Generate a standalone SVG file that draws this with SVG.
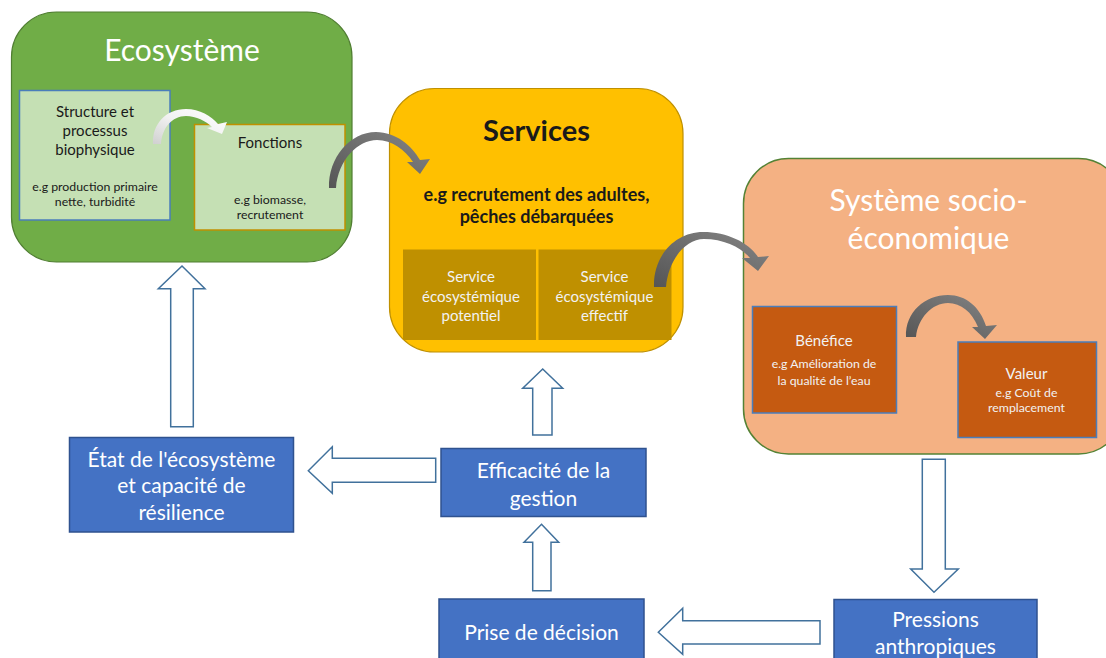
<svg xmlns="http://www.w3.org/2000/svg" width="1106" height="658" viewBox="0 0 1106 658">
<defs>
<style>
text{font-family:Lato,"Open Sans","Liberation Sans",sans-serif;text-anchor:middle}
.big{font-size:30px;fill:#fff}
.t14{font-size:15px}
.t11{font-size:12.3px}
.t20{font-size:21px;fill:#fff}
.lt{fill:#F2F2F2}
.dk{fill:#1a1a1a}
.blue{fill:#4472C4;stroke:#2F528F;stroke-width:1.5}
.blk{fill:#fff;stroke:#41719C;stroke-width:1.5;stroke-linejoin:miter}
.cgray{fill:url(#gDark)}
</style>
<linearGradient id="gDark" x1="0" y1="1" x2="1" y2="0">
<stop offset="0" stop-color="#555555"/>
<stop offset="1" stop-color="#858585"/>
</linearGradient>
<linearGradient id="gLight" x1="0" y1="1" x2="1" y2="0">
<stop offset="0" stop-color="#D0D0D0"/>
<stop offset="0.5" stop-color="#F2F2F2"/>
<stop offset="1" stop-color="#FFFFFF"/>
</linearGradient>
</defs>

<g id="ecosysteme">
<rect x="11.5" y="12" width="340.5" height="250" rx="45" fill="#70AD47" stroke="#507E32" stroke-width="1.2"/>
<text class="big" x="182" y="60.5">Ecosystème</text>
</g>
<g id="structure">
<rect x="19.5" y="90.5" width="150.5" height="129.5" fill="#C5E0B4" stroke="#4A7EBB" stroke-width="1.5"/>
<text class="t14 dk" x="95" y="116.5">Structure et</text>
<text class="t14 dk" x="95" y="136">processus</text>
<text class="t14 dk" x="95" y="155">biophysique</text>
<text class="t11 dk" x="95" y="190.5">e.g production primaire</text>
<text class="t11 dk" x="95" y="205.5">nette, turbidité</text>
</g>
<g id="fonctions">
<rect x="194.5" y="124.5" width="150.5" height="105.5" fill="#C5E0B4" stroke="#C09000" stroke-width="1.5"/>
<text class="t14 dk" x="270" y="147.5">Fonctions</text>
<text class="t11 dk" x="270" y="204">e.g biomasse,</text>
<text class="t11 dk" x="270" y="218.5">recrutement</text>
</g>

<g id="services">
<rect x="389.5" y="88.5" width="293.5" height="263.5" rx="45" fill="#FFC000" stroke="#BF9000" stroke-width="1.2"/>
<text x="536.5" y="140.5" style="font-size:29px;font-weight:bold" class="dk">Services</text>
<text x="536.5" y="201" style="font-size:18px;font-weight:bold" class="dk">e.g recrutement des adultes,</text>
<text x="536.5" y="222.5" style="font-size:18px;font-weight:bold" class="dk">pêches débarquées</text>
</g>
<g id="potentiel">
<rect x="403" y="249.5" width="133" height="90.5" fill="#BF9000"/>
<text class="t14 lt" x="471" y="281.5">Service</text>
<text class="t14 lt" x="471" y="301.5">écosystémique</text>
<text class="t14 lt" x="471" y="320.5">potentiel</text>
</g>
<g id="effectif">
<rect x="538.5" y="249.5" width="133" height="90.5" fill="#BF9000"/>
<text class="t14 lt" x="604.5" y="281.5">Service</text>
<text class="t14 lt" x="604.5" y="301.5">écosystémique</text>
<text class="t14 lt" x="604.5" y="320.5">effectif</text>
</g>

<g id="socio">
<rect x="743.5" y="158.5" width="380" height="295.5" rx="45" fill="#F4B183" stroke="#548235" stroke-width="1.5"/>
<text class="big" x="928.5" y="210.5">Système socio-</text>
<text class="big" x="928.5" y="248.5">économique</text>
</g>
<g id="benefice">
<rect x="752.5" y="306.5" width="144" height="106.5" fill="#C55A11" stroke="#4A7EBB" stroke-width="1.5"/>
<text class="t14 lt" x="824" y="346">Bénéfice</text>
<text class="t11 lt" x="824" y="367.5">e.g Amélioration de</text>
<text class="t11 lt" x="824" y="385.2">la qualité de l’eau</text>
</g>
<g id="valeur">
<rect x="958" y="342" width="138.5" height="95.5" fill="#C55A11" stroke="#4A7EBB" stroke-width="1.5"/>
<text class="t14 lt" x="1026.5" y="378.5">Valeur</text>
<text class="t11 lt" x="1026.5" y="396.5">e.g Coût de</text>
<text class="t11 lt" x="1026.5" y="412">remplacement</text>
</g>

<g id="etat">
<rect class="blue" x="69.5" y="437.5" width="224" height="94.5"/>
<text class="t20" x="181.5" y="466.5">État de l'écosystème</text>
<text class="t20" x="181.5" y="493.3">et capacité de</text>
<text class="t20" x="181.5" y="520">résilience</text>
</g>
<g id="efficacite">
<rect class="blue" x="441" y="448.5" width="205" height="68"/>
<text class="t20" x="543.5" y="478">Efficacité de la</text>
<text class="t20" x="543.5" y="505.5">gestion</text>
</g>
<g id="prise">
<rect class="blue" x="439" y="599" width="205" height="65"/>
<text class="t20" x="541.5" y="639.5">Prise de décision</text>
</g>
<g id="pressions">
<rect class="blue" x="834" y="599.5" width="203" height="65"/>
<text class="t20" x="935.5" y="626.5">Pressions</text>
<text class="t20" x="935.5" y="654">anthropiques</text>
</g>

<g id="connectors">
<polygon class="blk" points="182,266 205,288.7 193.3,288.7 193.3,426.7 170.7,426.7 170.7,288.7 158.3,288.7"/>
<polygon class="blk" points="308.3,470.7 332.3,446.7 332.3,458.3 435.7,458.3 435.7,482.3 332.3,482.3 332.3,493.3"/>
<polygon class="blk" points="542.7,369 562.7,388.3 552,388.3 552,435 532.7,435 532.7,388.3 522.7,388.3"/>
<polygon class="blk" points="541.5,524.3 558.7,542.3 551,542.3 551,590.7 532.7,590.7 532.7,542.3 524,542.3"/>
<polygon class="blk" points="658.3,632.3 682.7,608.3 682.7,620.7 820,620.7 820,644 682.7,644 682.7,654.3"/>
<polygon class="blk" points="934,592.3 958.3,569 945.3,569 945.3,459.3 922.3,459.3 922.3,569 910.7,569"/>

<path fill="url(#gLight)" d="M153 144 C152 124 166 109 186 109 C200 109 211 116 218 124 L227 122 L222 134 L207 128 L212 127 C206 121 196 116 186 116 C172 116 162 128 161 144 Z"/>
<path class="cgray" d="M329 188 C328 158 350 132 376 132 C396 132 412 146 420 160 L430 159 L420 174 L407 162 L413 162 C405 150 392 140 377 140 C358 140 338 160 336 188 Z"/>
<path class="cgray" d="M654 287 C653 255 676 232 703 232 C728 232 749 243 758 257 L769 256 L758 271 L742 258 L750 258 C742 248 724 239 704 239 C684 239 668 262 666 287 Z"/>
<path class="cgray" d="M906 337 C905 312 925 295 948 295 C966 295 980 307 986 326 L997 325 L985 339 L972 327 L978 327 C972 312 961 303 948 303 C932 303 918 318 916 337 Z"/>
</g>
</svg>
